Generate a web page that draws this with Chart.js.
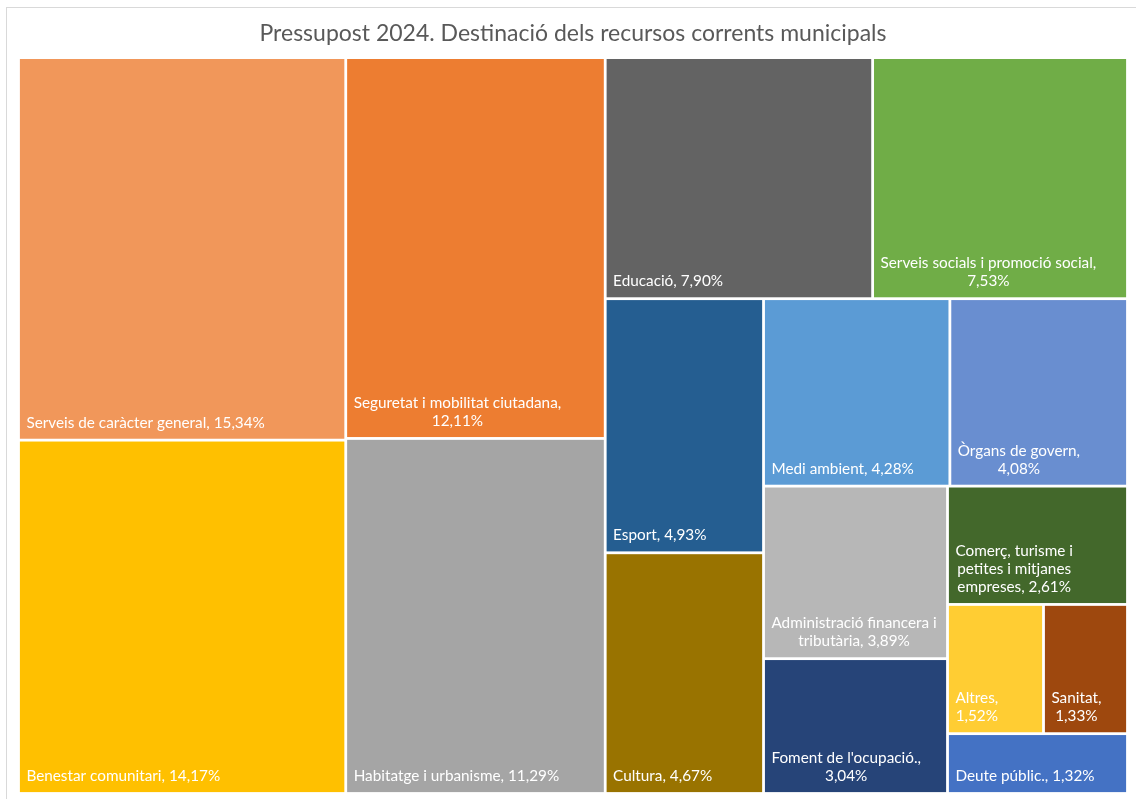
<!DOCTYPE html>
<html lang="ca">
<head>
<meta charset="UTF-8">
<title>Pressupost 2024</title>
<script src="https://cdn.jsdelivr.net/npm/chart.js"></script>
<style>
  body { margin: 0; background: #fff; }
  #wrap { width: 1136px; height: 799px; }
</style>
</head>
<body>
<div id="wrap"><canvas id="treemap"></canvas></div>
<script>
// data (share of current resources, %)
const categories = [
  'Serveis de caràcter general', 'Benestar comunitari', 'Seguretat i mobilitat ciutadana',
  'Habitatge i urbanisme', 'Educació', 'Serveis socials i promoció social', 'Esport', 'Cultura',
  'Medi ambient', 'Òrgans de govern', 'Administració financera i tributària', "Foment de l'ocupació.",
  'Comerç, turisme i petites i mitjanes empreses', 'Altres', 'Sanitat', 'Deute públic.'
];
const shares = [15.34, 14.17, 12.11, 11.29, 7.90, 7.53, 4.93, 4.67, 4.28, 4.08, 3.89, 3.04, 2.61, 1.52, 1.33, 1.32];

const palette = [
  '#F1975A', '#FFC000', '#ED7D31', '#A5A5A5', '#636363', '#70AD47', '#255E91', '#997300',
  '#5B9BD5', '#698ED0', '#B7B7B7', '#264478', '#43682B', '#FFCD33', '#9E480E', '#4472C4'
];

const FONT = 'Lato, "Open Sans", sans-serif';
const maxPerStrip = 2; // excel's treemap never puts more than two cells in a strip here

function worst(row, side, k) {
  const s = row.reduce((a, b) => a + b, 0) * k;
  let m = 0;
  row.forEach(v => {
    const r = v * k;
    m = Math.max(m, side * side * r / (s * s), (s * s) / (side * side * r));
  });
  return m;
}

// squarified layout in a W x H box
function squarify(values, W, H) {
  const total = values.reduce((a, b) => a + b, 0);
  const k = W * H / total;
  let x = 0, y = 0, w = W, h = H, i = 0;
  const out = [];
  while (i < values.length) {
    const side = Math.min(w, h);
    let row = [values[i]], j = i + 1;
    while (j < values.length && row.length < maxPerStrip) {
      const cand = row.concat(values[j]);
      if (worst(cand, side, k) <= worst(row, side, k)) { row = cand; j++; } else break;
    }
    const area = row.reduce((a, b) => a + b, 0) * k;
    if (w >= h) {
      const t = area / h; let yy = y;
      row.forEach(v => { const hh = v * k / t; out.push({ x: x, y: yy, w: t, h: hh }); yy += hh; });
      x += t; w -= t;
    } else {
      const t = area / w; let xx = x;
      row.forEach(v => { const ww = v * k / t; out.push({ x: xx, y: y, w: ww, h: t }); xx += ww; });
      y += t; h -= t;
    }
    i = j;
  }
  return out;
}

function wrap(ctx, text, maxW) {
  const words = text.split(' ');
  const lines = [];
  let cur = '';
  words.forEach(wd => {
    const t = cur ? cur + ' ' + wd : wd;
    if (!cur || ctx.measureText(t).width <= maxW) cur = t;
    else { lines.push(cur); cur = wd; }
  });
  if (cur) lines.push(cur);
  return lines;
}

const cellsPlugin = {
  id: 'cells',
  beforeDraw(chart) {
    const ctx = chart.ctx;
    ctx.save();
    ctx.fillStyle = '#fff';
    ctx.fillRect(0, 0, chart.width, chart.height);
    ctx.strokeStyle = '#D9D9D9';
    ctx.lineWidth = 1;
    ctx.strokeRect(6.5, 7.5, chart.width + 10, chart.height + 10);
    ctx.restore();
  },
  afterDatasetsDraw(chart) {
    const { ctx, chartArea, scales } = chart;
    const aspect = chartArea.width / chartArea.height;
    const rects = squarify(shares, aspect, 1);
    const gap = 1.4;
    ctx.save();
    ctx.font = '15.3px ' + FONT;
    rects.forEach((r, i) => {
      const x0 = scales.x.getPixelForValue(r.x / aspect) + gap;
      const x1 = scales.x.getPixelForValue((r.x + r.w) / aspect) - gap;
      const y0 = scales.y.getPixelForValue(r.y) + gap;
      const y1 = scales.y.getPixelForValue(r.y + r.h) - gap;
      ctx.fillStyle = palette[i];
      ctx.fillRect(x0, y0, x1 - x0, y1 - y0);

      const label = categories[i] + ', ' + shares[i].toFixed(2).replace('.', ',') + '%';
      const pad = 6.5;
      const lines = wrap(ctx, label, x1 - x0 - 2 * pad);
      const bw = Math.max.apply(null, lines.map(l => ctx.measureText(l).width));
      ctx.fillStyle = '#fff';
      ctx.textAlign = 'center';
      ctx.textBaseline = 'alphabetic';
      lines.forEach((l, li) => {
        ctx.fillText(l, x0 + pad + bw / 2, y1 - 11 - (lines.length - 1 - li) * 18);
      });
    });
    ctx.restore();
  }
};

new Chart(document.getElementById('treemap'), {
  type: 'scatter',
  data: { datasets: [{ data: [], pointRadius: 0 }] },
  options: {
    responsive: true,
    maintainAspectRatio: false,
    animation: false,
    layout: { padding: { left: 18.5, right: 8.5, top: 0, bottom: 5.5 } },
    scales: {
      x: { type: 'linear', min: 0, max: 1, display: false },
      y: { type: 'linear', min: 0, max: 1, reverse: true, display: false }
    },
    plugins: {
      legend: { display: false },
      tooltip: { enabled: false },
      title: {
        display: true,
        text: 'Pressupost 2024. Destinació dels recursos corrents municipals',
        color: '#595959',
        font: { family: FONT, size: 23, weight: 'normal' },
        padding: { top: 20, bottom: 10 }
      }
    }
  },
  plugins: [cellsPlugin]
});
</script>
</body>
</html>
